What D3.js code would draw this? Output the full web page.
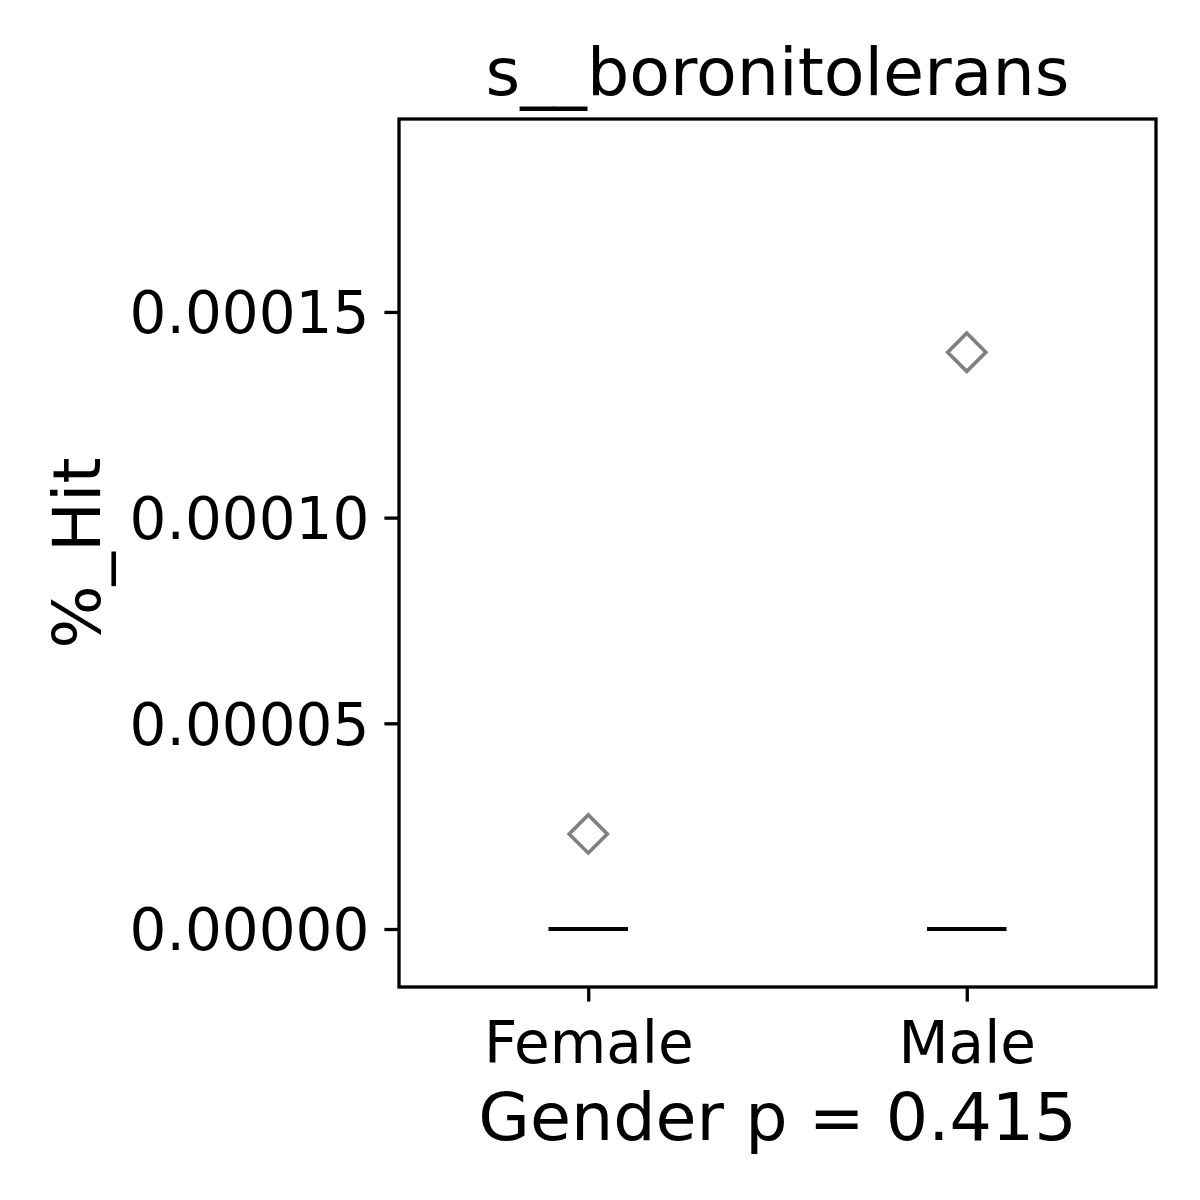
<!DOCTYPE html>
<html>
<head>
<meta charset="utf-8">
<script src="https://cdn.jsdelivr.net/npm/d3@7"></script>
<style>
  body { margin: 0; background: #fff; }
  text { font-family: "DejaVu Sans", sans-serif; fill: #000; }
</style>
</head>
<body>
<div id="boxplot"></div>
<script>
// Data
var groups = ["Female", "Male"]
var medians = [0, 0]
var q1s = [0, 0]
var q3s = [0, 0]
var whiskLow = [0, 0]
var whiskHigh = [0, 0]
var fliers = [[0.0000231], [0.0001402]]
var yTicks = [0, 0.00005, 0.0001, 0.00015]
var yDomain = [-0.0000141, 0.0001969]
var titleText = "s__boronitolerans"
var xLabel = "Gender p = 0.415"
var yLabel = "%_Hit"

const margin = {top: 119, right: 44, bottom: 213, left: 399},
    width = 1200 - margin.left - margin.right,
    height = 1200 - margin.top - margin.bottom

// Create SVG
var svg = d3.select("#boxplot")
.append("svg")
.attr("width", 1200)
.attr("height", 1200)

var chart = svg.append("g")
.attr("transform", "translate(" + margin.left + "," + margin.top + ")")

// Scales: positions 1 and 2, x limits 0.5 .. 2.5
var x = d3.scaleLinear()
.domain([0.5, 2.5])
.range([0, width])

var y = d3.scaleLinear()
.domain(yDomain)
.range([height, 0])

var boxHalf = 0.105

// Axes
var xAxis = chart.append("g")
.attr("transform", "translate(0," + height + ")")
.call(d3.axisBottom(x).tickValues([1, 2]).tickFormat(function(d) { return groups[d - 1] })
  .tickSize(14.6).tickPadding(14))
var yAxis = chart.append("g")
.call(d3.axisLeft(y).tickValues(yTicks).tickFormat(d3.format(".5f"))
  .tickSize(14.6).tickPadding(15))

chart.selectAll(".domain").remove()
chart.selectAll(".tick line").attr("stroke", "#000").attr("stroke-width", 3.3)
xAxis.selectAll("text").style("font-size", "58px").attr("dy", "0.81em")
yAxis.selectAll("text").style("font-size", "58px").attr("dy", "0.36em")

// Boxes (all collapse to zero here)
groups.forEach(function(g, i) {
  var cx = x(i + 1)
  // whiskers
  chart.append("line")
  .attr("x1", cx).attr("x2", cx)
  .attr("y1", y(whiskLow[i])).attr("y2", y(q1s[i]))
  .attr("stroke", "#000").attr("stroke-width", 4)
  chart.append("line")
  .attr("x1", cx).attr("x2", cx)
  .attr("y1", y(q3s[i])).attr("y2", y(whiskHigh[i]))
  .attr("stroke", "#000").attr("stroke-width", 4)
  // box
  chart.append("rect")
  .attr("x", x(i + 1 - boxHalf))
  .attr("y", y(q3s[i]))
  .attr("width", x(i + 1 + boxHalf) - x(i + 1 - boxHalf))
  .attr("height", y(q1s[i]) - y(q3s[i]))
  .attr("fill", "none").attr("stroke", "#000").attr("stroke-width", 4)
  // median
  chart.append("line")
  .attr("x1", x(i + 1 - boxHalf)).attr("x2", x(i + 1 + boxHalf))
  .attr("y1", y(medians[i])).attr("y2", y(medians[i]))
  .attr("stroke", "#000").attr("stroke-width", 4)

  // fliers as diamonds
  chart.selectAll(".flier" + i)
  .data(fliers[i])
  .enter()
  .append("path")
  .attr("class", "flier" + i)
  .attr("d", d3.symbol().type(d3.symbolSquare).size(27 * 27))
  .attr("transform", function(d) { return "translate(" + cx + "," + y(d) + ") rotate(45)" })
  .attr("fill", "none")
  .attr("stroke", "#808080")
  .attr("stroke-width", 3.6)
})

// Frame
chart.append("rect")
.attr("width", width)
.attr("height", height)
.attr("fill", "none")
.attr("stroke", "#000")
.attr("stroke-width", 3.3)

// Title and labels
svg.append("text")
.attr("x", margin.left + width / 2)
.attr("y", 95)
.attr("text-anchor", "middle")
.style("font-size", "66.7px")
.text(titleText)

svg.append("text")
.attr("x", margin.left + width / 2)
.attr("y", 1140)
.attr("text-anchor", "middle")
.style("font-size", "66.7px")
.text(xLabel)

svg.append("text")
.attr("transform", "translate(100," + (margin.top + height / 2) + ") rotate(-90)")
.attr("text-anchor", "middle")
.style("font-size", "66.7px")
.text(yLabel)
</script>
</body>
</html>
